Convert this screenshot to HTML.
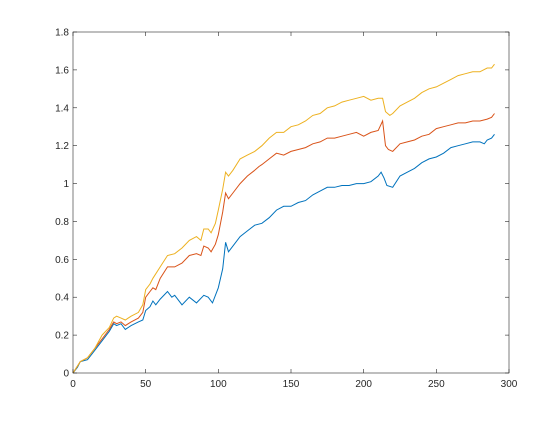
<!DOCTYPE html>
<html><head><meta charset="utf-8"><style>
body{margin:0;background:#fff;}
svg text{font-family:"Liberation Sans",sans-serif;font-size:10px;fill:#262626;}
</style></head><body>
<svg id="chart" width="560" height="420" xmlns="http://www.w3.org/2000/svg">
<rect width="560" height="420" fill="#fff"/>
<g id="lines"></g>
<g id="axes"></g>
</svg>
<script>
const xTicks=[0,50,100,150,200,250,300];
const yTicks=[0,0.2,0.4,0.6,0.8,1,1.2,1.4,1.6,1.8];
const yTickLabels=["0","0.2","0.4","0.6","0.8","1","1.2","1.4","1.6","1.8"];
const blueX=[0,3,5,10,15,20,25,28,30,33,36,40,45,48,50,53,55,57,60,65,68,70,75,80,85,90,93,96,100,103,105,107,110,115,120,125,130,135,140,145,150,155,160,165,170,175,180,185,190,195,200,205,210,212,214,216,220,225,230,235,240,245,250,255,260,265,270,275,280,283,285,288,290];
const blueY=[0,0.03,0.06,0.07,0.12,0.17,0.22,0.26,0.25,0.26,0.23,0.25,0.27,0.28,0.33,0.35,0.38,0.36,0.39,0.43,0.4,0.41,0.36,0.4,0.37,0.41,0.4,0.37,0.45,0.55,0.69,0.64,0.67,0.72,0.75,0.78,0.79,0.82,0.86,0.88,0.88,0.9,0.91,0.94,0.96,0.98,0.98,0.99,0.99,1.0,1.0,1.01,1.04,1.06,1.03,0.99,0.98,1.04,1.06,1.08,1.11,1.13,1.14,1.16,1.19,1.2,1.21,1.22,1.22,1.21,1.23,1.24,1.26];
const redX=[0,5,10,15,20,25,28,30,33,36,40,45,48,50,53,55,57,60,65,70,75,80,85,88,90,93,95,98,100,103,105,107,110,115,120,125,128,130,135,140,145,150,155,160,165,170,175,180,185,190,195,200,205,210,213,215,217,220,225,230,235,240,245,250,255,260,265,270,275,280,285,288,290];
const redY=[0,0.06,0.08,0.13,0.18,0.23,0.27,0.26,0.27,0.25,0.27,0.29,0.32,0.4,0.43,0.45,0.44,0.5,0.56,0.56,0.58,0.62,0.63,0.62,0.67,0.66,0.64,0.68,0.73,0.85,0.95,0.92,0.95,1.0,1.04,1.07,1.09,1.1,1.13,1.16,1.15,1.17,1.18,1.19,1.21,1.22,1.24,1.24,1.25,1.26,1.27,1.25,1.27,1.28,1.33,1.2,1.18,1.17,1.21,1.22,1.23,1.25,1.26,1.29,1.3,1.31,1.32,1.32,1.33,1.33,1.34,1.35,1.37];
const yellowX=[0,5,10,15,20,25,28,30,33,36,40,45,48,50,53,55,60,65,70,75,80,85,88,90,93,95,98,100,103,105,107,110,115,120,125,130,135,140,145,150,155,160,165,170,175,180,185,190,195,200,205,210,213,215,218,220,225,230,235,240,245,250,255,260,265,270,275,280,285,288,290];
const yellowY=[0,0.06,0.08,0.13,0.2,0.24,0.29,0.3,0.29,0.28,0.3,0.32,0.36,0.44,0.47,0.5,0.56,0.62,0.63,0.66,0.7,0.72,0.7,0.76,0.76,0.74,0.79,0.86,0.97,1.06,1.04,1.07,1.13,1.15,1.17,1.2,1.24,1.27,1.27,1.3,1.31,1.33,1.36,1.37,1.4,1.41,1.43,1.44,1.45,1.46,1.44,1.45,1.45,1.38,1.36,1.37,1.41,1.43,1.45,1.48,1.5,1.51,1.53,1.55,1.57,1.58,1.59,1.59,1.61,1.61,1.63];

const L=73,R=509,T=32,B=373;
const sx=v=>L+(v-0)/(300-0)*(R-L);
const sy=v=>B-(v-0)/(1.8-0)*(B-T);
const NS="http://www.w3.org/2000/svg";
const lines=document.getElementById('lines');
function drawSeries(xs,ys,color,name){
  const p=document.createElementNS(NS,'polyline');
  p.setAttribute('points',xs.map((x,i)=>sx(x).toFixed(1)+','+sy(ys[i]).toFixed(1)).join(' '));
  p.setAttribute('fill','none');p.setAttribute('stroke',color);p.setAttribute('stroke-width','1');
  
  
  lines.appendChild(p);
}
drawSeries(blueX,blueY,'#0072bd','series-1-line');
drawSeries(redX,redY,'#d95319','series-2-line');
drawSeries(yellowX,yellowY,'#edb120','series-3-line');

const axes=document.getElementById('axes');
const box=document.createElementNS(NS,'rect');
box.setAttribute('x',L);box.setAttribute('y',T);box.setAttribute('width',R-L);box.setAttribute('height',B-T);
box.setAttribute('fill','none');box.setAttribute('stroke','#262626');box.setAttribute('stroke-width','0.6');


axes.appendChild(box);
function ln(x1,y1,x2,y2,name){const l=document.createElementNS(NS,'line');
 l.setAttribute('x1',x1);l.setAttribute('y1',y1);l.setAttribute('x2',x2);l.setAttribute('y2',y2);
 l.setAttribute('stroke','#262626');l.setAttribute('stroke-width','0.6');
 
 
 axes.appendChild(l);}
function tx(x,y,s,anchor,name){const t=document.createElementNS(NS,'text');
 t.setAttribute('x',x);t.setAttribute('y',y);t.setAttribute('text-anchor',anchor);t.textContent=s;
 
 
 axes.appendChild(t);}
xTicks.forEach(v=>{const x=sx(v);ln(x,B,x,B-4,'x-tick');ln(x,T,x,T+4,'x-tick-top');tx(x,B+14,String(v),'middle','x-tick-label');});
yTicks.forEach((v,i)=>{const y=sy(v);ln(L,y,L+4,y,'y-tick');ln(R,y,R-4,y,'y-tick-right');tx(L-4,y+3.5,yTickLabels[i],'end','y-tick-label');});
</script>
</body></html>
